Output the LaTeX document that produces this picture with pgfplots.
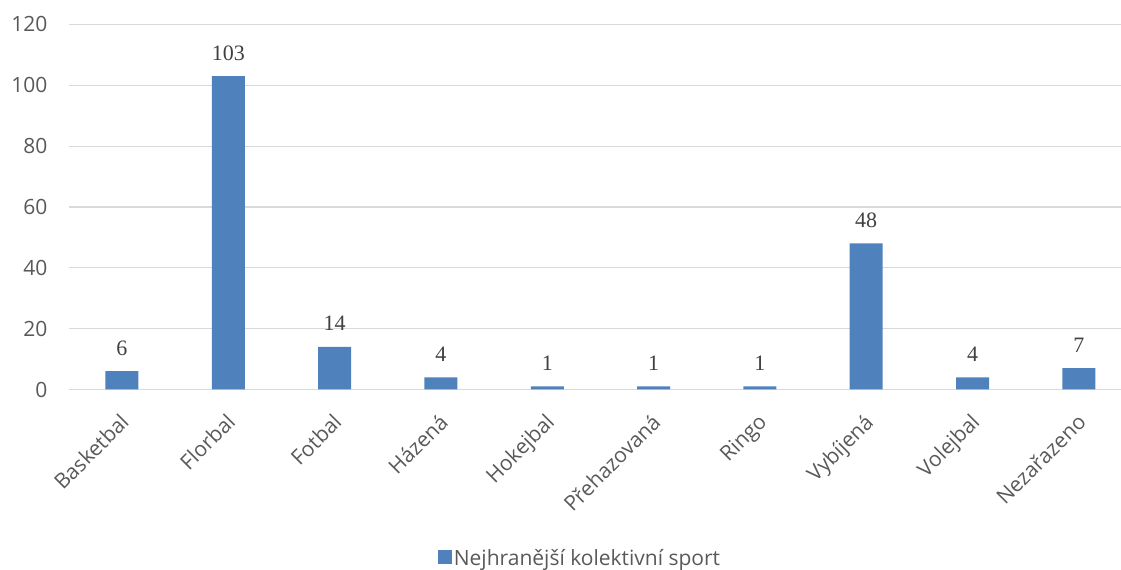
\documentclass[border=0pt]{standalone}
\usepackage{pgfplots}
\pgfplotsset{compat=1.18}
\usepackage{fontspec}
\setmainfont{Open Sans}
\newfontfamily\serifnum{Liberation Serif}
\definecolor{barblue}{HTML}{4F81BD}
\definecolor{gridgray}{HTML}{D9D9D9}
\definecolor{txtgray}{HTML}{595959}
\definecolor{lblgray}{HTML}{404040}
\begin{document}
\begin{tikzpicture}[x=1bp,y=1bp]
\begin{axis}[
  at={(68.8bp,180.5bp)}, anchor=south west,
  scale only axis, width=1063.2bp, height=365bp,
  ybar, bar width=33bp,
  xmin=-0.5, xmax=9.5, ymin=0, ymax=120,
  ytick={0,20,...,120},
  xtick=data,
  xticklabels={Basketbal,Florbal,Fotbal,Házená,Hokejbal,Přehazovaná,Ringo,Vybíjená,Volejbal,Nezařazeno},
  ymajorgrids, grid style={gridgray, line width=1.2bp},
  axis x line*=bottom, axis y line*=left,
  x axis line style={gridgray, line width=1.2bp, -},
  y axis line style={draw=none},
  major tick length=0pt,
  tick style={draw=none},
  /pgf/number format/assume math mode=true,
  ticklabel style={font=\fontsize{21bp}{25bp}\selectfont, text=txtgray},
  yticklabel style={xshift=-18bp},
  xticklabel style={xshift=-3bp, yshift=-18bp, rotate=45, anchor=north east},
  nodes near coords,
  every node near coord/.append style={font=\serifnum\fontsize{22bp}{26bp}\selectfont, text=lblgray, anchor=base, yshift=16bp},
  legend style={at={(0.4808,-0.4616)}, anchor=center, draw=none, fill=none,
    font=\fontsize{21bp}{25bp}\selectfont, text=txtgray},
  legend image code/.code={\fill[barblue] (0bp,-6bp) rectangle (14bp,8bp);},
]
\addplot[fill=barblue, draw=none] coordinates {(0,6) (1,103) (2,14) (3,4) (4,1) (5,1) (6,1) (7,48) (8,4) (9,7)};
\addlegendentry{Nejhranější kolektivní sport}
\end{axis}
\pgfresetboundingbox
\useasboundingbox (0,0) rectangle (1121,570);
\end{tikzpicture}
\end{document}
